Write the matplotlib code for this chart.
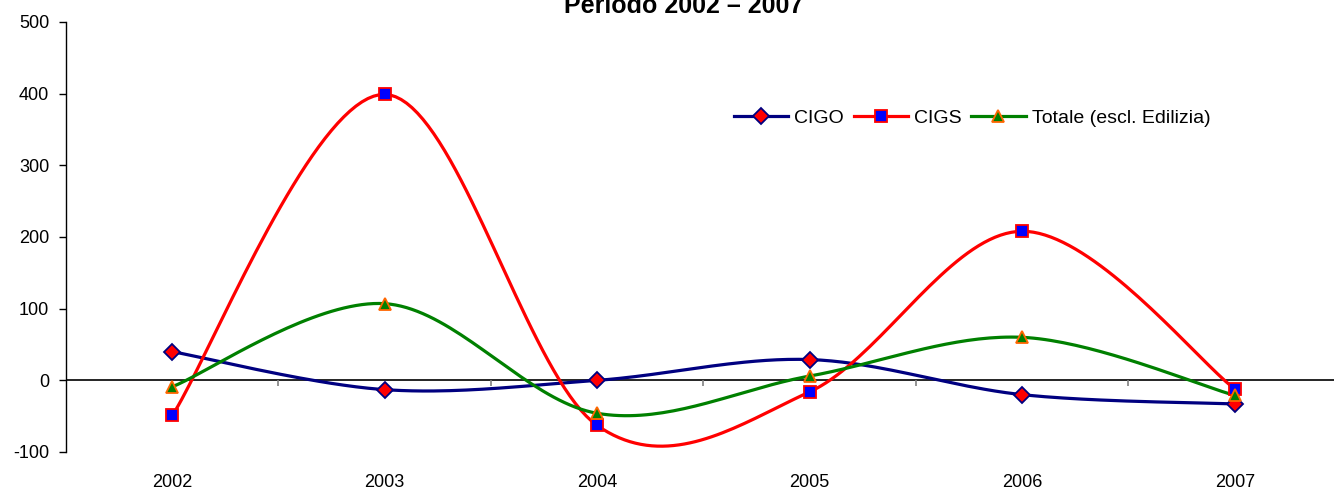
import numpy as np
import matplotlib
matplotlib.use("Agg")
import matplotlib.pyplot as plt

plt.rcParams["font.family"] = ["Liberation Sans", "DejaVu Sans"]
plt.rcParams["axes.unicode_minus"] = False

years = ["2002", "2003", "2004", "2005", "2006", "2007"]
cigo = [40, -13, 0, 29, -20, -33]
cigs = [-49, 399, -63, -16, 208, -12]
totale = [-9, 107, -46, 6, 60, -21]


def smooth(xs, ys, n=40):
    # Catmull-Rom style bezier, close to Excel smoothed lines
    p = np.column_stack([xs, ys]).astype(float)
    p = np.vstack([p[0], p, p[-1]])
    out = []
    for i in range(1, len(p) - 2):
        p0, p1, p2, p3 = p[i - 1], p[i], p[i + 1], p[i + 2]
        c1 = p1 + (p2 - p0) / 6
        c2 = p2 - (p3 - p1) / 6
        t = np.linspace(0, 1, n)[:, None]
        seg = ((1 - t) ** 3) * p1 + 3 * ((1 - t) ** 2) * t * c1 + 3 * (1 - t) * t ** 2 * c2 + t ** 3 * p2
        out.append(seg if i == 1 else seg[1:])
    s = np.vstack(out)
    return s[:, 0], s[:, 1]


fig = plt.figure(figsize=(13.34, 4.91), dpi=100)
ax = fig.add_axes([66 / 1334, 1 - 452 / 491, 1 - 66 / 1334, (452 - 22) / 491])

x = np.arange(len(years))
series = [
    ("CIGO", cigo, "#000080", "D", "#FF0000", "#000080"),
    ("CIGS", cigs, "#FF0000", "s", "#0000FF", "#FF0000"),
    ("Totale (escl. Edilizia)", totale, "#008000", "^", "#008000", "#FF6600"),
]
for name, vals, col, mk, mfc, mec in series:
    sx, sy = smooth(x, vals)
    ax.plot(sx, sy, color=col, lw=2.3, zorder=3)
    ax.plot(x, vals, ls="none", marker=mk, ms=8, mfc=mfc, mec=mec, mew=1.3, zorder=4)
    ax.plot([], [], color=col, lw=2.3, marker=mk, ms=8, mfc=mfc, mec=mec, mew=1.3, label=name)

ax.set_ylim(-100, 500)
ax.set_xlim(-0.5, 5.5 - 7 / 213)
ax.set_yticks(range(-100, 501, 100))
ax.set_xticks(x)
ax.set_xticklabels(years)
ax.tick_params(axis="x", length=0, labelsize=13, pad=16)
ax.tick_params(axis="y", length=5, direction="out", labelsize=13, width=1, pad=7)
for s in ["top", "right", "bottom"]:
    ax.spines[s].set_visible(False)
ax.spines["left"].set_linewidth(1)

# category axis drawn at zero with boundary ticks
ax.axhline(0, color="black", lw=1.2, zorder=2)
ax.vlines(x[:-1] + 0.5, 0, -8, color="#808080", lw=1.2, zorder=2)

leg = fig.legend(loc="center", bbox_to_anchor=(972 / 1334, 1 - 118 / 491), ncol=3,
                 frameon=False, fontsize=14, handlelength=2.8, columnspacing=0.5,
                 handletextpad=0.3)

fig.text(684 / 1334, 1 - 13 / 491, "Periodo 2002 \u2013 2007", ha="center", va="baseline",
         fontsize=18, fontweight="bold")

fig.savefig("out.png", dpi=100)
